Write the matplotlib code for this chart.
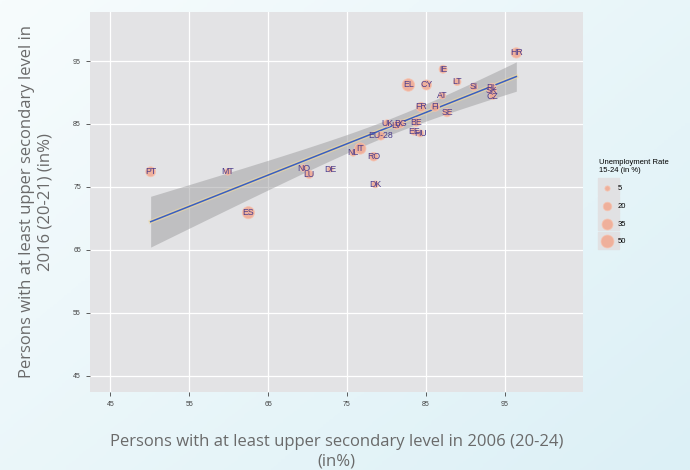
import numpy as np
import matplotlib
matplotlib.use("Agg")
import matplotlib.pyplot as plt
from matplotlib.patches import Rectangle

# data
countries = ["PT", "MT", "ES", "NO", "LU", "DE", "NL", "IT", "RO", "DK", "EU-28", "UK", "LV", "BG",
             "BE", "EE", "HU", "FR", "FI", "SE", "AT", "EL", "CY", "IE", "LT", "SI", "PL", "SK", "CZ", "HR"]
x2006 = [50.1, 59.9, 62.5, 69.5, 70.2, 72.9, 75.8, 76.7, 78.4, 78.6, 79.3, 80.1, 81.3, 81.8,
         83.8, 83.5, 84.3, 84.4, 86.2, 87.7, 87.1, 82.8, 85.1, 87.2, 89.0, 91.1, 93.4, 93.4, 93.5, 96.5]
y2016 = [77.4, 77.4, 70.9, 78.0, 77.0, 77.8, 80.4, 81.1, 79.8, 75.4, 83.1, 85.1, 84.8, 85.0,
         85.3, 83.8, 83.5, 87.7, 87.7, 86.8, 89.5, 91.2, 91.2, 93.7, 91.7, 90.9, 90.8, 90.3, 89.4, 96.3]
unemp = [28.2, 11.0, 44.4, 11.2, 18.9, 7.1, 10.8, 37.8, 20.6, 12.0, 18.7, 13.0, 17.3, 17.2,
         20.1, 13.4, 12.9, 24.6, 20.1, 18.9, 11.2, 47.3, 29.1, 17.2, 14.5, 15.2, 17.7, 22.2, 10.5, 31.3]
legend_breaks = [5, 20, 35, 50]
ticks = [45, 55, 65, 75, 85, 95]

def size_of(v):
    # marker area (pt^2) grows with the unemployment rate
    return 6 + 1.6 * np.asarray(v, dtype=float)

fig = plt.figure(figsize=(6.9, 4.7), dpi=100)

# light blue slide background
bg = fig.add_axes([0, 0, 1, 1], zorder=-10)
gx, gy = np.meshgrid(np.linspace(0, 1, 200), np.linspace(0, 1, 200))
grad = 0.55 * gx + 0.45 * gy
bg.imshow(grad, cmap=matplotlib.colors.LinearSegmentedColormap.from_list("b", ["#f7fcfd", "#dcf0f6"]),
          aspect="auto", extent=[0, 1, 0, 1], origin="upper")
bg.axis("off")

ax = fig.add_axes([0.1304, 0.166, 0.715, 0.8085])
ax.set_facecolor("#e3e3e5")
for s in ax.spines.values():
    s.set_visible(False)
ax.set_xlim(42.4, 105)
ax.set_ylim(42.4, 102.8)
ax.set_xticks(ticks)
ax.set_yticks(ticks)
ax.grid(True, color="white", lw=0.9)
ax.set_axisbelow(True)
ax.tick_params(length=3, width=0.6, color="#444444", labelsize=5, labelcolor="#444444")
for lab in ax.get_xticklabels() + ax.get_yticklabels():
    lab.set_family("Liberation Sans")

# linear fit with 95% confidence band
x = np.array(x2006)
y = np.array(y2016)
n = len(x)
b, a = np.polyfit(x, y, 1)
xs = np.linspace(x.min(), x.max(), 100)
fit = a + b * xs
resid = y - (a + b * x)
se = np.sqrt(np.sum(resid ** 2) / (n - 2))
t = 2.048  # t(0.975, df=28)
half = t * se * np.sqrt(1 / n + (xs - x.mean()) ** 2 / np.sum((x - x.mean()) ** 2))
ax.fill_between(xs, fit - half, fit + half, color="#9c9c9e", alpha=0.5, lw=0, zorder=2)
ax.plot(xs, fit, color="#efd9a0", lw=3, alpha=0.6, zorder=3)
ax.plot(xs, fit, color="#3a5fc0", lw=1.1, zorder=4)

# bubbles and country labels
ax.scatter(x2006, y2016, s=size_of(unemp), color="#f2a88f", alpha=0.85,
           edgecolors="#f6c3b0", linewidths=0.6, zorder=5)
for c, xv, yv in zip(countries, x2006, y2016):
    ax.text(xv, yv, c, ha="center", va="center", fontsize=6.3, color="#4b3c8c",
            family="Liberation Sans", zorder=6)

ax.set_xlabel("Persons with at least upper secondary level in 2006 (20-24)\n(in%)",
              fontsize=12, color="#6a6a6a", family="Open Sans", labelpad=19, linespacing=1.3)
ax.set_ylabel("Persons with at least upper secondary level in\n2016 (20-21) (in%)",
              fontsize=12, color="#6a6a6a", family="Open Sans", labelpad=14, linespacing=1.25)

# gray legend key boxes, like ggplot
for i in range(len(legend_breaks)):
    yc = 186 + 18 * i
    fig.patches.append(Rectangle((598 / 690, 1 - (yc + 8.5) / 470), 21 / 690, 17 / 470,
                                 transform=fig.transFigure, color="#e1e1e3", zorder=0))

# size legend
handles = [ax.scatter([], [], s=size_of(v), color="#f2a88f", alpha=0.85,
                      edgecolors="#f6c3b0", linewidths=0.6) for v in legend_breaks]
leg = fig.legend(handles, [str(v) for v in legend_breaks], title="Unemployment Rate\n15-24 (in %)",
                 loc="upper left", bbox_to_anchor=(594 / 690, 1 - 154 / 470), frameon=False,
                 prop={"family": "Liberation Sans", "size": 5.5}, title_fontsize=5.5,
                 handletextpad=0.4, labelspacing=1.36, borderpad=0.2)
leg.get_title().set_family("Liberation Sans")
leg._legend_box.align = "left"

fig.savefig("out.png", dpi=100)
